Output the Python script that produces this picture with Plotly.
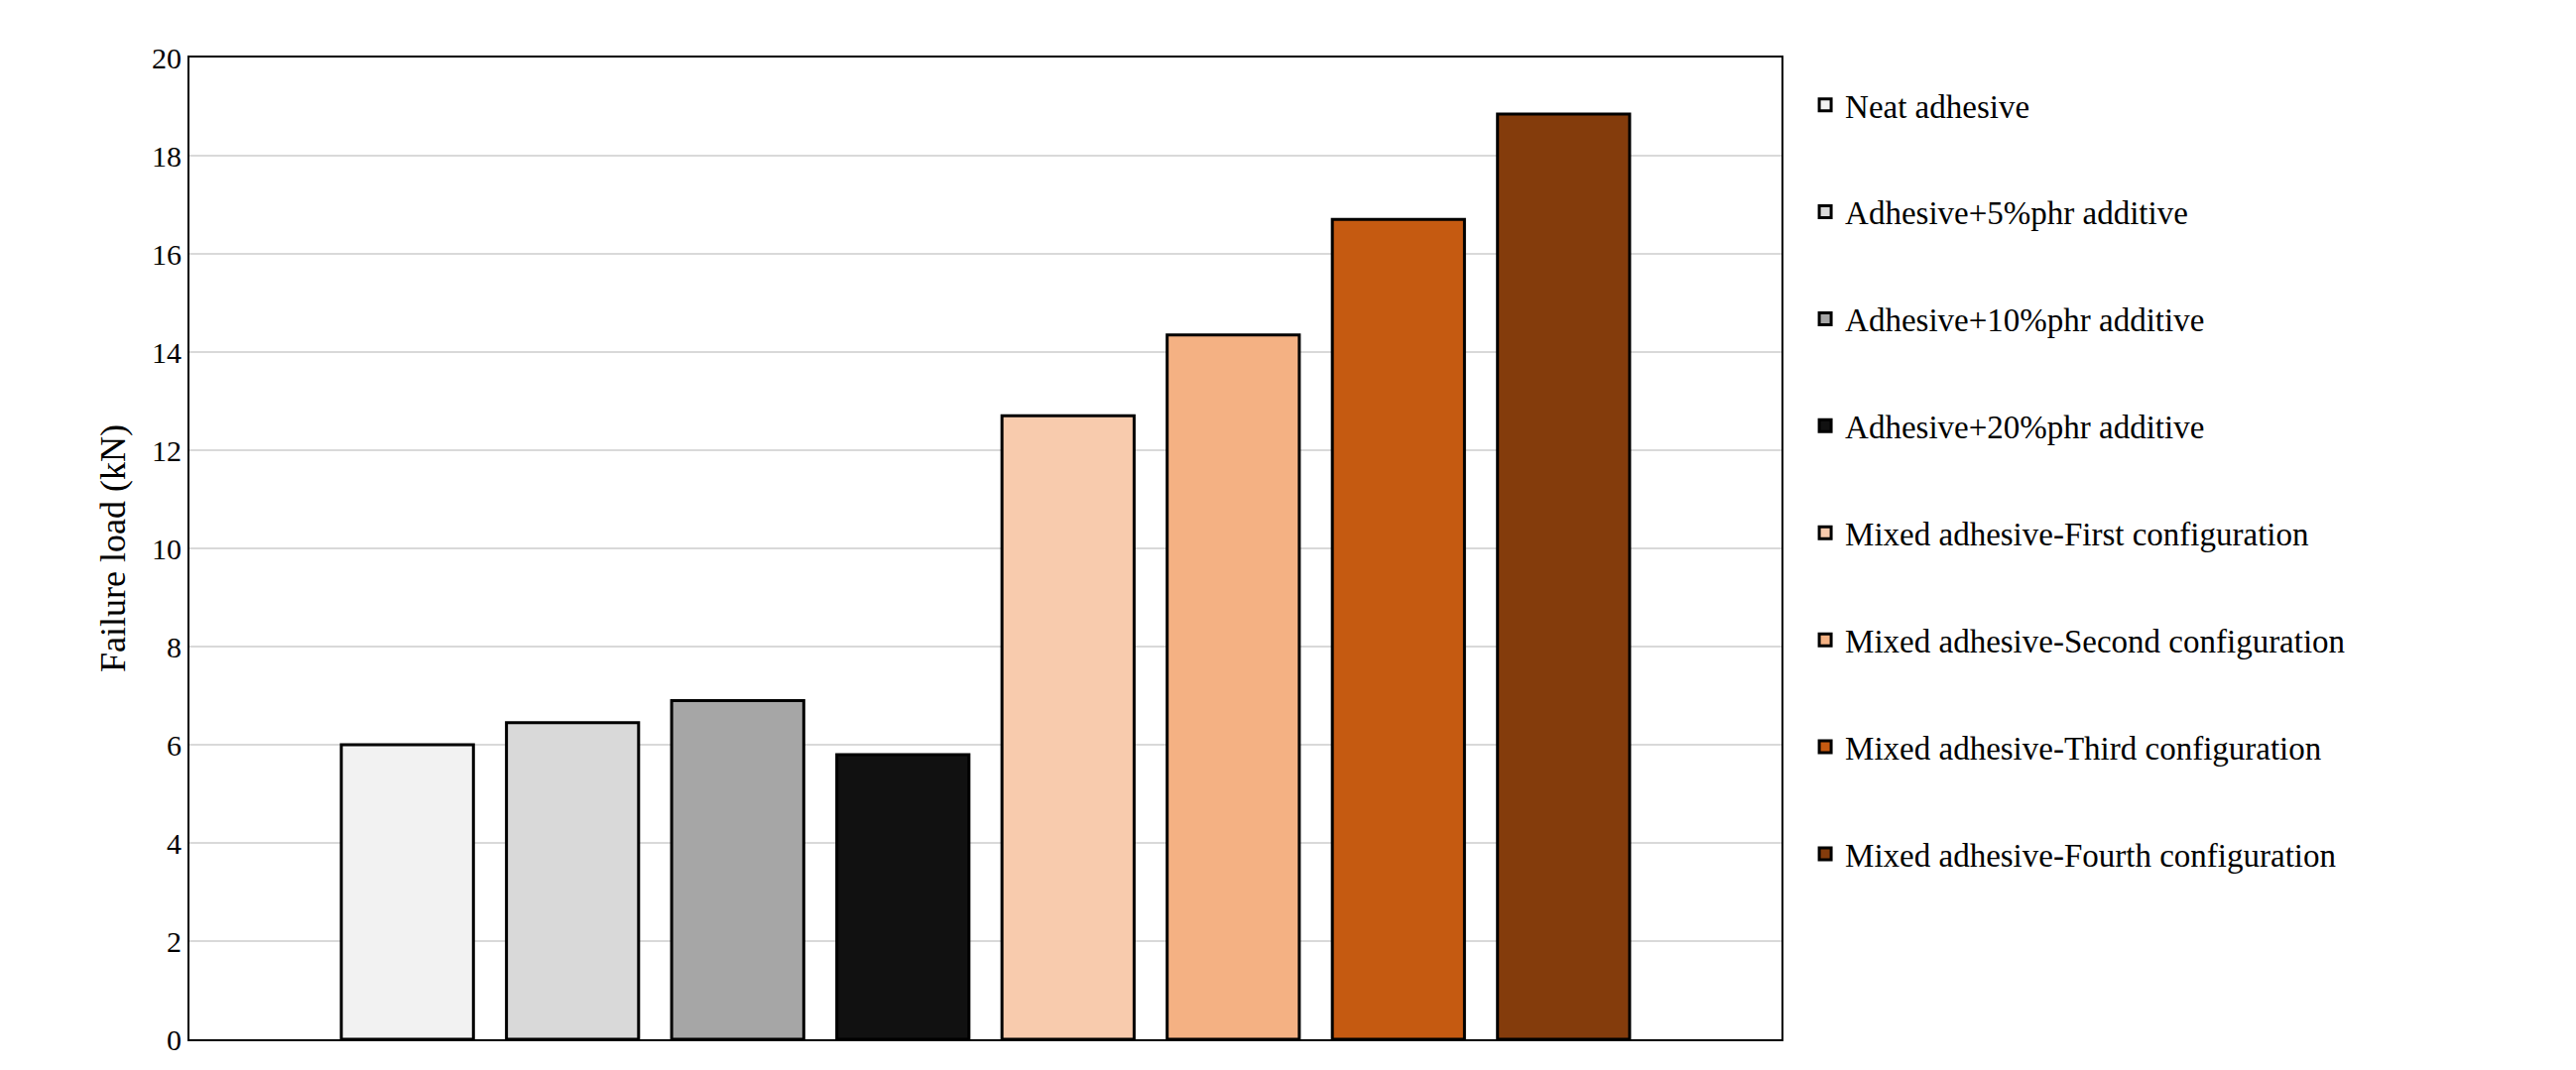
import plotly.graph_objects as go

# series names, values and colours
names = ['Neat adhesive', 'Adhesive+5%phr additive', 'Adhesive+10%phr additive',
         'Adhesive+20%phr additive', 'Mixed adhesive-First configuration',
         'Mixed adhesive-Second configuration', 'Mixed adhesive-Third configuration',
         'Mixed adhesive-Fourth configuration']
loads = [6.0, 6.45, 6.9, 5.8, 12.7, 14.35, 16.7, 18.85]
colors = ['#f2f2f2', '#d9d9d9', '#a6a6a6', '#111111',
          '#f8cbad', '#f4b183', '#c55a11', '#843c0c']

fig = go.Figure()
for i, (n, v, c) in enumerate(zip(names, loads, colors)):
    fig.add_trace(go.Bar(x=[''], y=[v], name=n, legendgroup=str(i),
                         marker=dict(color=c, line=dict(color='black', width=3))))

fig.update_layout(
    barmode='group',
    bargap=0.17,
    bargroupgap=0.2,
    width=2597, height=1079,
    margin=dict(l=183, r=809, t=50, b=39),
    plot_bgcolor='white',
    paper_bgcolor='white',
    font=dict(family='Liberation Serif', size=30, color='black'),
    legend=dict(x=1.015, y=0.57, yanchor='middle', xanchor='left',
                tracegroupgap=62, font=dict(size=33)),
    yaxis=dict(title=dict(text='Failure load (kN)', font=dict(size=36)),
               range=[0, 20], dtick=2, showgrid=True, gridcolor='#d9d9d9', gridwidth=2,
               showline=True, linecolor='black', linewidth=2, mirror=True,
               ticks='', zeroline=False),
    xaxis=dict(showline=True, linecolor='black', linewidth=2, mirror=True,
               showticklabels=False),
)

fig.write_html('out.html')
